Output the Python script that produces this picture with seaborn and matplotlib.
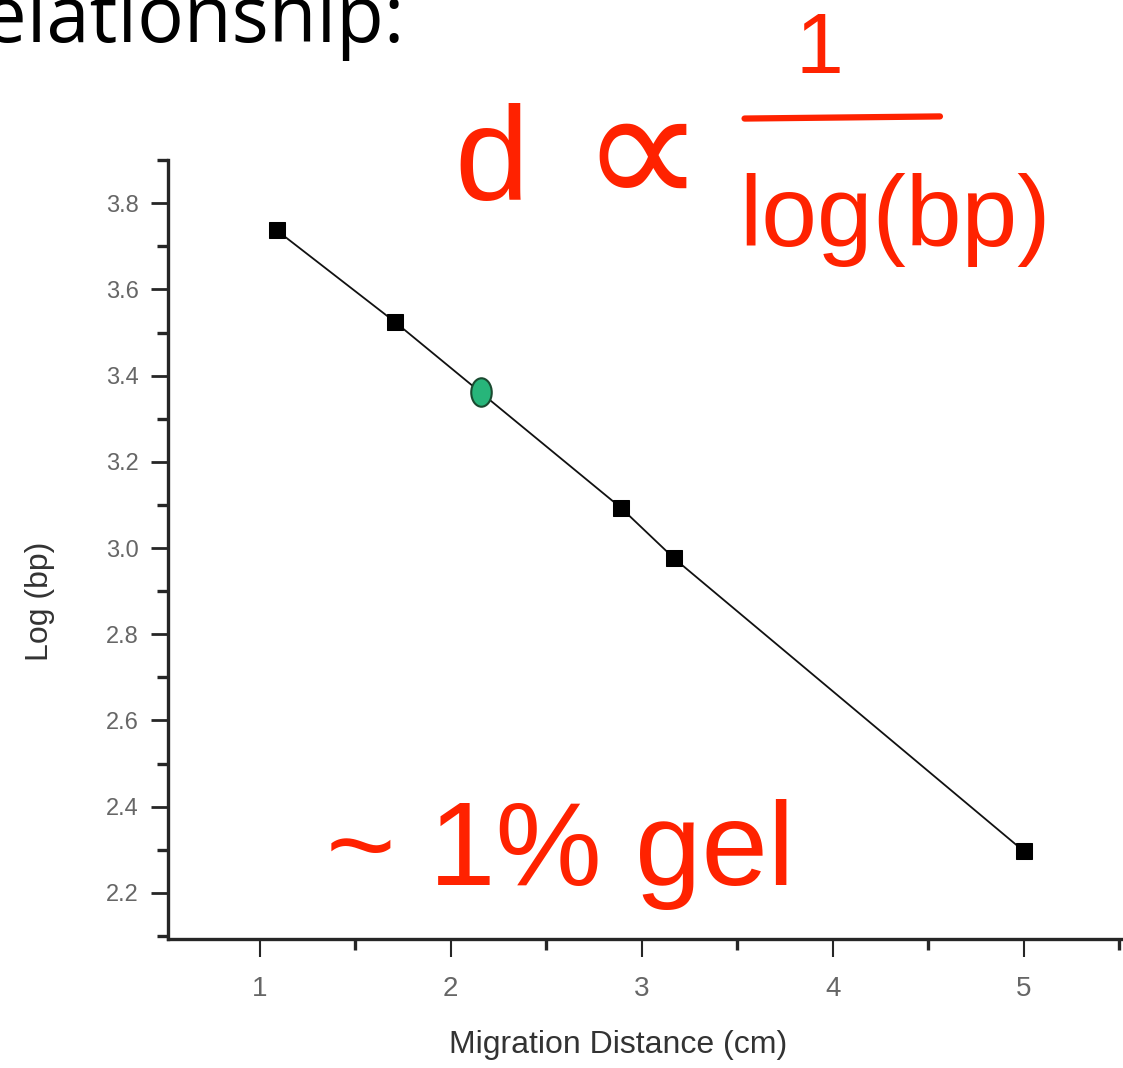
import numpy as np
import pandas as pd
import seaborn as sns
import matplotlib.pyplot as plt
from matplotlib.markers import MarkerStyle
from matplotlib.transforms import Affine2D
from matplotlib.lines import Line2D
from matplotlib.ticker import MultipleLocator

# values
distance_cm = [1.09, 1.71, 2.89, 3.17, 5.0]
log_bp = [3.737, 3.524, 3.094, 2.976, 2.297]
unknown_cm = [2.16]
unknown_log = [3.361]
x_ticks = [1, 2, 3, 4, 5]
y_ticks = [2.2, 2.4, 2.6, 2.8, 3.0, 3.2, 3.4, 3.6, 3.8]

sns.set_style("ticks")
plt.rcParams['font.family'] = ['Liberation Sans', 'DejaVu Sans']

fig = plt.figure(figsize=(11.23, 10.68), dpi=100)
ax = fig.add_axes([0.1496, 0.1208, 0.8504, 0.7292])

df = pd.DataFrame({'dist': distance_cm, 'log': log_bp})
sns.lineplot(data=df, x='dist', y='log', ax=ax, color='#111111', linewidth=1.3,
             marker='s', markersize=11, markeredgecolor='black', markerfacecolor='black')

ell = MarkerStyle('o', transform=Affine2D().scale(0.72, 1.0))
sns.scatterplot(x=unknown_cm, y=unknown_log, ax=ax, marker=ell, s=420,
                color='#27b57a', edgecolor='#1a4a30', linewidth=1.5, zorder=5)

ax.set_xlim(0.52, 5.52)
ax.set_ylim(2.093, 3.9)
ax.set_xticks(x_ticks)
ax.set_yticks(y_ticks)
ax.set_yticklabels([f'{v:.1f}' for v in y_ticks])
ax.xaxis.set_minor_locator(MultipleLocator(0.5))
ax.yaxis.set_minor_locator(MultipleLocator(0.1))

sns.despine(ax=ax)
for s in ['left', 'bottom']:
    ax.spines[s].set_linewidth(2.4)
ax.tick_params(which='major', length=12, width=2, labelcolor='#666666', pad=9)
ax.tick_params(which='minor', length=8, width=2.4)
ax.tick_params(axis='y', which='major', labelsize=17)
ax.tick_params(axis='x', which='major', width=1.5, length=13, pad=14, labelsize=20)

ax.set_xlabel('Migration Distance (cm)', fontsize=23, color='#333333')
ax.set_ylabel('Log (bp)', fontsize=23, color='#333333')
ax.xaxis.set_label_coords(0.471, -0.117)
ax.yaxis.set_label_coords(-0.118, 0.433)

# slide heading, cut off on the left (the "R" falls outside the crop)
fig.text(0.3606, 0.961, 'Relationship:', fontsize=56, family=['Open Sans', 'DejaVu Sans'],
         va='baseline', ha='right', color='black')

# red annotations
red = '#ff2200'
fig.text(0.405, 0.813, 'd', fontsize=96, color=red, va='baseline', ha='left')
fig.text(0.572, 0.848, '∝', fontsize=125, color=red, va='center', ha='center')
fig.text(0.73, 0.915, '1', fontsize=62, color=red, va='bottom', ha='center')
fig.add_artist(Line2D([0.663, 0.837], [0.889, 0.891], transform=fig.transFigure,
                      color=red, linewidth=4.5, solid_capstyle='round'))
fig.text(0.797, 0.77, 'log(bp)', fontsize=72, color=red, va='baseline', ha='center')
fig.text(0.29, 0.1713, '~ 1% gel', fontsize=86, color=red, va='baseline', ha='left')

fig.savefig('out.png', dpi=100)
